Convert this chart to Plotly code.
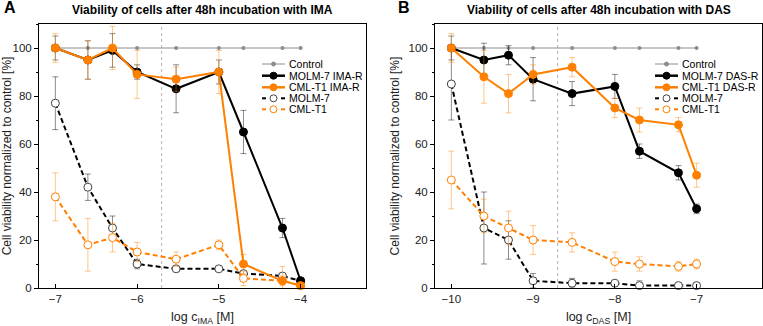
import numpy as np
import plotly.graph_objects as go

# ---------------- data ----------------
conc_ima = [1e-7, 2.5e-7, 5e-7, 1e-6, 3e-6, 1e-5, 2e-5, 6e-5, 1e-4]
conc_das = [1e-10, 2.5e-10, 5e-10, 1e-9, 3e-9, 1e-8, 2e-8, 6e-8, 1e-7]

control = [100, 100, 100, 100, 100, 100, 100, 100, 100]

ima_molm7_r = [100, 95, 99, 90, 83, 90, 65, 25, 3]
ima_molm7_r_err = [5, 8, 7, 3, 10, 5, 9, 4, 1]
ima_cml_r = [100, 95, 100, 89, 87, 90, 10, 3, 1]
ima_cml_r_err = [6, 8, 9, 10, 5, 9, 4, 2, 1]
ima_molm7 = [77, 42, 25, 10, 8, 8, 6, 5, 3]
ima_molm7_err = [11, 5.5, 5, 2, 1, 1, 1, 1, 1]
ima_cml = [38, 18, 21, 15, 12, 18, 4, 3, 1]
ima_cml_err = [10, 11, 6, 4, 3, 2, 3, 6, 1]

das_molm7_r = [100, 95, 97, 87, 81, 84, 57, 48, 33]
das_molm7_r_err = [5, 7, 4, 9, 5, 5, 3, 3, 2]
das_cml_r = [100, 88, 81, 89, 92, 75, 70, 68, 47]
das_cml_r_err = [6, 11, 8, 4, 4, 4, 5, 3, 5]
das_molm7 = [85, 25, 20, 3, 2, 2, 1, 1, 1]
das_molm7_err = [15, 15, 8, 3, 2, 1, 2, 1, 1]
das_cml = [45, 30, 25, 20, 19, 11, 10, 9, 10]
das_cml_err = [12, 7, 7, 6, 4, 4, 3, 2, 2]

ima_marker_line = -5.7
das_marker_line = -8.7

legend_ima = ["Control", "MOLM-7 IMA-R", "CML-T1 IMA-R", "MOLM-7", "CML-T1"]
legend_das = ["Control", "MOLM-7 DAS-R", "CML-T1 DAS-R", "MOLM-7", "CML-T1"]

# ---------------- style ----------------
W, H = 763, 326
FONT = "Arial, Liberation Sans, sans-serif"
ORANGE = "#FF8000"
ORANGE_ERR = "rgba(255,128,0,0.45)"
BLACK = "#000000"
BLACK_ERR = "rgba(0,0,0,0.45)"
GREY = "#8c8c8c"
DASH = "5px,3px"

fig = go.Figure()


def add_panel(xs, series, xa, ya):
    (c, m_r, m_r_e, c_r, c_r_e, m, m_e, cm, cm_e) = series
    fig.add_trace(go.Scatter(x=xs, y=c, mode="lines+markers", xaxis=xa, yaxis=ya,
                             line=dict(color=GREY, width=1), marker=dict(color=GREY, size=4),
                             showlegend=False, cliponaxis=False))
    specs = [
        (m, m_e, BLACK, BLACK_ERR, DASH, "white", "#444"),
        (cm, cm_e, ORANGE, ORANGE_ERR, DASH, "white", ORANGE),
        (m_r, m_r_e, BLACK, BLACK_ERR, "solid", BLACK, BLACK),
        (c_r, c_r_e, ORANGE, ORANGE_ERR, "solid", ORANGE, ORANGE),
    ]
    for y, e, col, ecol, dash, fill, edge in specs:
        fig.add_trace(go.Scatter(
            x=xs, y=y, mode="lines+markers", xaxis=xa, yaxis=ya,
            line=dict(color=col, width=2, dash=dash),
            marker=dict(symbol="circle", size=8, color=fill, line=dict(width=1, color=edge)),
            error_y=dict(type="data", array=e, color=ecol, thickness=1, width=3),
            showlegend=False, cliponaxis=False))


add_panel(np.log10(conc_ima),
          (control, ima_molm7_r, ima_molm7_r_err, ima_cml_r, ima_cml_r_err,
           ima_molm7, ima_molm7_err, ima_cml, ima_cml_err), "x", "y")
add_panel(np.log10(conc_das),
          (control, das_molm7_r, das_molm7_r_err, das_cml_r, das_cml_r_err,
           das_molm7, das_molm7_err, das_cml, das_cml_err), "x2", "y2")

# ------------- legends drawn on a pixel overlay axis -------------
def add_legend(x0, labels):
    rows = [64, 75.7, 87.3, 98.3, 109.3]
    x1 = x0 + 23
    xm = (x0 + x1) / 2
    styles = [
        (GREY, 1, GREY, GREY, 4, "solid"),
        (BLACK, 2.5, BLACK, BLACK, 7, "solid"),
        (ORANGE, 2.5, ORANGE, ORANGE, 7, "solid"),
        (BLACK, 2, "white", "#444", 7, "gap"),
        (ORANGE, 2, "white", ORANGE, 7, "gap"),
    ]
    for yy, lab, (col, lw, fill, edge, ms, kind) in zip(rows, labels, styles):
        if kind == "solid":
            fig.add_trace(go.Scatter(x=[x0, x1], y=[yy, yy], mode="lines", xaxis="x3", yaxis="y3",
                                     line=dict(color=col, width=lw), showlegend=False, hoverinfo="skip"))
        else:
            fig.add_trace(go.Scatter(x=[x0, x0 + 4, None, x1 - 4, x1], y=[yy, yy, None, yy, yy],
                                     mode="lines", xaxis="x3", yaxis="y3", connectgaps=False,
                                     line=dict(color=col, width=lw), showlegend=False, hoverinfo="skip"))
        fig.add_trace(go.Scatter(x=[xm], y=[yy], mode="markers", xaxis="x3", yaxis="y3",
                                 marker=dict(symbol="circle", size=ms, color=fill, line=dict(width=1, color=edge)),
                                 showlegend=False, hoverinfo="skip"))
        fig.add_annotation(x=x1 + 2, y=yy, xref="x3", yref="y3", text=lab, showarrow=False,
                           xanchor="left", yanchor="middle", font=dict(size=10.5, color="#000"))


add_legend(262, legend_ima)
add_legend(655, legend_das)

# ------------- layout -------------
ytop, ybot = 24, 288
ydom = [1 - ybot / H, 1 - ytop / H]
xd1 = [39 / W, 366 / W]
xd2 = [435 / W, 762 / W]

common_y = dict(range=[0, 110], tickmode="linear", tick0=0, dtick=20, ticks="outside", ticklen=4,
                tickwidth=1, tickcolor="#000", showline=True, linecolor="#000", linewidth=1,
                mirror=True, showgrid=False, zeroline=False, tickfont=dict(size=11.5), automargin=False,
                minor=dict(tick0=0, dtick=10, ticks="outside", ticklen=2, tickcolor="#000", showgrid=False),
                title=dict(text="Cell viability normalized to control [%]", font=dict(size=12), standoff=6))
common_x = dict(ticks="inside", ticklen=4, tickwidth=1, tickcolor="#000", showline=True,
                linecolor="#000", linewidth=1, mirror=True, showgrid=False, zeroline=False,
                tickfont=dict(size=11.5), tickmode="linear", dtick=1, automargin=False)

fig.update_layout(
    width=W, height=H, margin=dict(l=0, r=0, t=0, b=0),
    paper_bgcolor="white", plot_bgcolor="rgba(0,0,0,0)",
    font=dict(family=FONT, color="#222"),
    showlegend=False,
    xaxis=dict(common_x, domain=xd1, anchor="y", range=[-7.2, -3.2], tick0=-7,
               title=dict(text="log c<sub>IMA</sub> [M]", font=dict(size=12.5), standoff=8)),
    yaxis=dict(common_y, domain=ydom, anchor="x"),
    xaxis2=dict(common_x, domain=xd2, anchor="y2", range=[-10.2, -6.2], tick0=-10,
                title=dict(text="log c<sub>DAS</sub> [M]", font=dict(size=12.5), standoff=8)),
    yaxis2=dict(common_y, domain=ydom, anchor="x2"),
    xaxis3=dict(domain=[0, 1], anchor="y3", range=[0, W], visible=False, fixedrange=True, automargin=False),
    yaxis3=dict(domain=[0, 1], anchor="x3", range=[H, 0], visible=False, fixedrange=True, automargin=False),
)

for xr, yr, xv in [("x", "y", ima_marker_line), ("x2", "y2", das_marker_line)]:
    fig.add_shape(type="line", xref=xr, yref=yr + " domain", x0=xv, x1=xv, y0=0, y1=1,
                  line=dict(color="#b0b0b0", width=1, dash="dot"), layer="below")

# titles and panel letters
fig.add_annotation(x=(xd1[0] + xd1[1]) / 2, y=1 - 10 / H, xref="paper", yref="paper", showarrow=False,
                   xanchor="center", yanchor="middle",
                   text="<b>Viability of cells after 48h incubation with IMA</b>", font=dict(size=12, color="#000"))
fig.add_annotation(x=(xd2[0] + xd2[1]) / 2, y=1 - 10 / H, xref="paper", yref="paper", showarrow=False,
                   xanchor="center", yanchor="middle",
                   text="<b>Viability of cells after 48h incubation with DAS</b>", font=dict(size=12, color="#000"))
fig.add_annotation(x=2 / W, y=1 - 8 / H, xref="paper", yref="paper", showarrow=False, xanchor="left",
                   yanchor="middle", text="<b>A</b>", font=dict(size=16, color="#000"))
fig.add_annotation(x=396 / W, y=1 - 8 / H, xref="paper", yref="paper", showarrow=False, xanchor="left",
                   yanchor="middle", text="<b>B</b>", font=dict(size=16, color="#000"))

fig.write_html("out.html")
